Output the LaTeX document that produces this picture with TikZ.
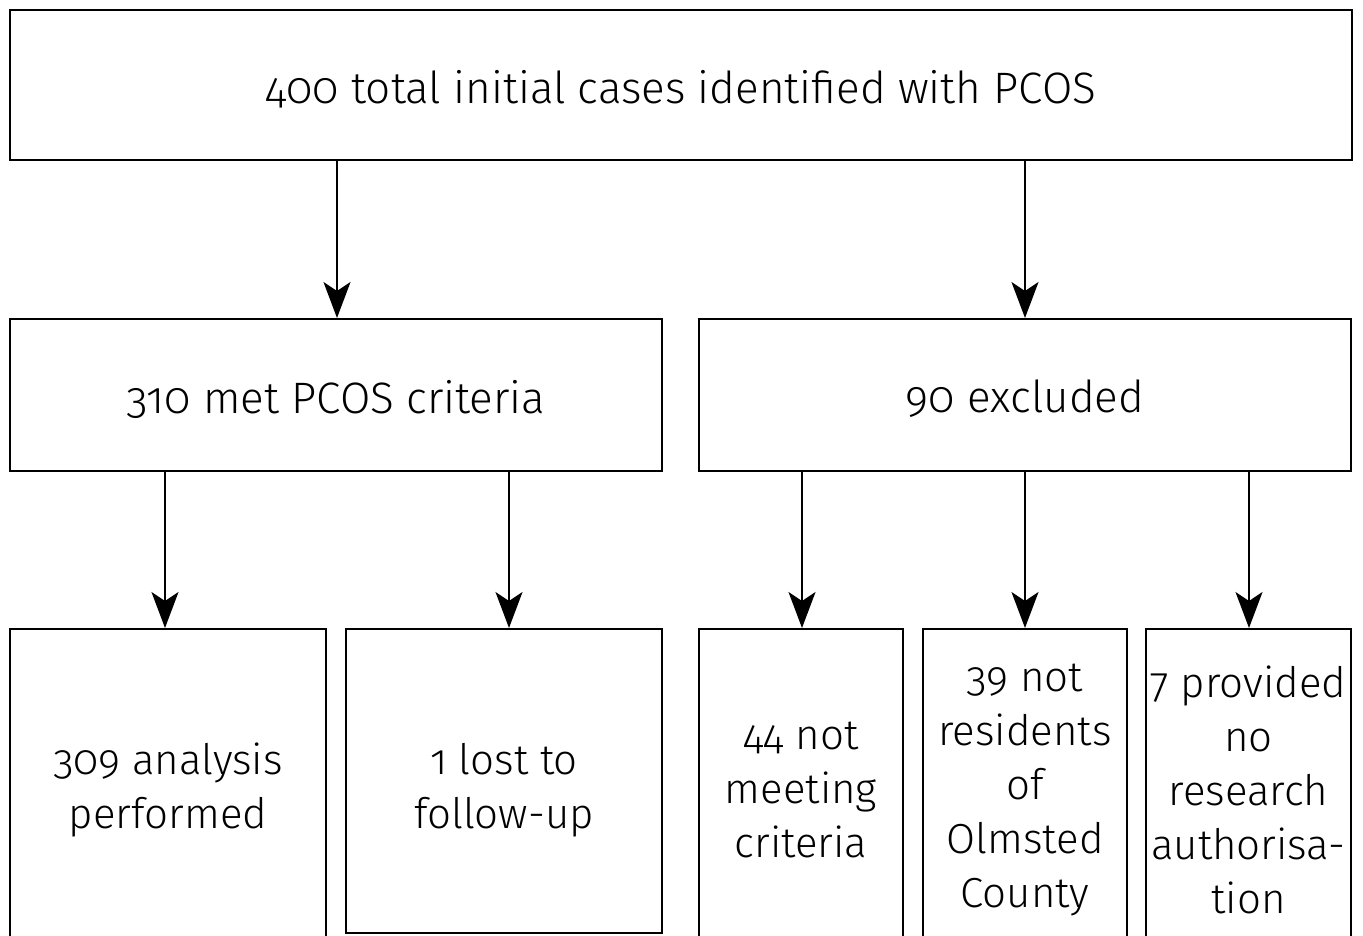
\documentclass[tikz,border=0pt]{standalone}
\usepackage{fontspec}
\setmainfont{Fira Sans Light}[Numbers=OldStyle]
\usetikzlibrary{arrows.meta}
\begin{document}
\begin{tikzpicture}[x=1pt,y=-1pt,
  box/.style={draw=black,line width=2pt,rectangle,inner sep=0pt},
  txt/.style={inner sep=0pt,align=center,font=\fontsize{42}{54}\selectfont},
  big/.style={font=\fontsize{44}{54}\selectfont},
  arr/.style={line width=2pt,-{Stealth[length=36pt,width=27pt,inset=9pt]}}]
\useasboundingbox[clip] (0,0) rectangle (1363,935);
\fill[white] (0,0) rectangle (1363,935);
\node[box,minimum width=1342pt,minimum height=150pt] (top) at (681,85) {};
\node[box,minimum width=652pt,minimum height=152pt] (met) at (336,395) {};
\node[box,minimum width=652pt,minimum height=152pt] (exc) at (1025,395) {};
\node[box,minimum width=316pt,minimum height=314pt] (ana) at (168,786) {};
\node[box,minimum width=316pt,minimum height=304pt] (lost) at (504,781) {};
\node[box,minimum width=204pt,minimum height=314pt] (nm) at (801,786) {};
\node[box,minimum width=204pt,minimum height=314pt] (nr) at (1025,786) {};
\node[box,minimum width=205pt,minimum height=314pt] (na) at (1248.5,786) {};
\node[txt,big] (ttop) at ([yshift=-4pt]top.center) {400 total initial cases identified with PCOS};
\node[txt,big] (tmet) at ([yshift=-4pt]met.center) {310 met PCOS criteria};
\node[txt,big] (texc) at ([yshift=-4pt]exc.center) {90 excluded};
\node[txt] (tana) at ([yshift=-4pt]ana.center) {309 analysis\\performed};
\node[txt] (tlost) at ([yshift=-9pt]lost.center) {1 lost to\\follow-up};
\node[txt] (tnm) at ([yshift=-4pt]nm.center) {44 not\\meeting\\criteria};
\node[txt] (tnr) at ([yshift=-4pt]nr.center) {39 not\\residents\\of\\Olmsted\\County};
\node[txt] (tna) at ([yshift=-4pt]na.center) {7 provided\\no\\research\\authorisa-\\tion};
\draw[arr] (top.south -| 337,0) -- (met.north -| 337,0);
\draw[arr] (top.south -| 1025,0) -- (exc.north -| 1025,0);
\draw[arr] (met.south -| 165,0) -- (ana.north -| 165,0);
\draw[arr] (met.south -| 509,0) -- (lost.north -| 509,0);
\draw[arr] (exc.south -| 802,0) -- (nm.north -| 802,0);
\draw[arr] (exc.south -| 1025,0) -- (nr.north);
\draw[arr] (exc.south -| 1249,0) -- (na.north -| 1249,0);
\end{tikzpicture}
\end{document}
